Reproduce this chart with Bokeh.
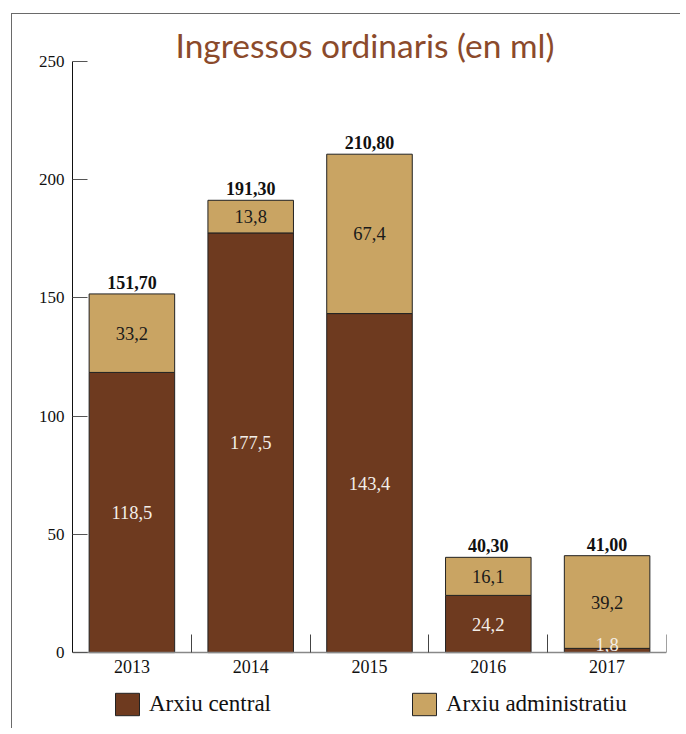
from bokeh.plotting import figure
from bokeh.models import (ColumnDataSource, FixedTicker, Legend, LegendItem,
                          InlineStyleSheet)
from bokeh.core.properties import value
from bokeh.embed import file_html
from bokeh.resources import INLINE

# ---- data ----
years = ["2013", "2014", "2015", "2016", "2017"]
arxiu_central = [118.5, 177.5, 143.4, 24.2, 1.8]
arxiu_administratiu = [33.2, 13.8, 67.4, 16.1, 39.2]
y_ticks = [0, 50, 100, 150, 200, 250]

title_text = "Ingressos ordinaris (en ml)"
series_names = ["Arxiu central", "Arxiu administratiu"]
c_central = "#6E3A1F"
c_admin = "#C9A463"

SERIF = "Liberation Serif"
MIN_LABEL_Y = 3.5  # keep very small segment labels readable above the axis

def fmt(v, d):
    return f"{v:.{d}f}".replace(".", ",")

xs = [i + 0.5 for i in range(len(years))]
totals = [a + b for a, b in zip(arxiu_central, arxiu_administratiu)]

src = ColumnDataSource(dict(
    x=xs,
    central=arxiu_central,
    admin=arxiu_administratiu,
    total=totals,
    central_mid=[max(c / 2, MIN_LABEL_Y) for c in arxiu_central],
    admin_mid=[c + a / 2 for c, a in zip(arxiu_central, arxiu_administratiu)],
    central_lbl=[fmt(v, 1) for v in arxiu_central],
    admin_lbl=[fmt(v, 1) for v in arxiu_administratiu],
    total_lbl=[fmt(v, 2) for v in totals],
))

# the frame extends below zero so that axis labels and legend sit inside it
p = figure(frame_width=594, frame_height=663,
           min_border_left=72, min_border_right=14,
           min_border_top=61, min_border_bottom=4,
           x_range=(0, len(years)), y_range=(-30.4, 250),
           output_backend="svg", toolbar_location=None)
p.outline_line_color = None
p.xgrid.grid_line_color = None
p.ygrid.grid_line_color = None
p.background_fill_color = "white"
p.border_fill_color = "white"

# title
p.title.text = title_text
p.title.align = "left"
p.title.offset = 103
p.title.text_font = "Lato"
p.title.text_font_size = "33.5px"
p.title.text_font_style = "normal"
p.title.text_color = "#8B4A2B"
p.title.standoff = -6

bars = p.vbar_stack(["central", "admin"], x="x", width=0.72, source=src,
                    color=[c_central, c_admin], line_color="#222222", line_width=1)

# segment labels
p.text(x="x", y="central_mid", text="central_lbl", source=src,
       text_align="center", text_baseline="middle", text_color="#F3EEE8",
       text_font=value(SERIF), text_font_size="18.5px")
p.text(x="x", y="admin_mid", text="admin_lbl", source=src,
       text_align="center", text_baseline="middle", text_color="#1a1a1a",
       text_font=value(SERIF), text_font_size="18.5px")
p.text(x="x", y="total", text="total_lbl", source=src,
       text_align="center", text_baseline="bottom", text_color="#111111",
       text_font=value(SERIF), text_font_size="18px", text_font_style="bold",
       y_offset=-5)

# x axis drawn at y = 0
xa = p.xaxis[0]
xa.fixed_location = 0
xa.ticker = FixedTicker(ticks=xs, minor_ticks=list(range(1, len(years) + 1)))
xa.major_label_overrides = {x: y for x, y in zip(xs, years)}
xa.major_tick_in = 0
xa.major_tick_out = 0
xa.minor_tick_in = 18
xa.minor_tick_out = 0
xa.minor_tick_line_color = "#444444"
xa.axis_line_color = "#888888"
xa.axis_line_width = 1.5
xa.major_label_text_font = SERIF
xa.major_label_text_font_size = "18px"
xa.major_label_text_color = "#111111"
xa.major_label_standoff = 7

# y axis, bounded to 0..250
ya = p.yaxis[0]
ya.bounds = (0, 250)
ya.ticker = FixedTicker(ticks=y_ticks)
ya.minor_tick_line_color = None
ya.major_tick_in = 15
ya.major_tick_out = 0
ya.major_tick_line_color = "#555555"
ya.axis_line_color = "#111111"
ya.major_label_text_font = SERIF
ya.major_label_text_font_size = "17px"
ya.major_label_text_color = "#111111"
ya.major_label_standoff = 8

# legend
legend = Legend(items=[LegendItem(label=n, renderers=[r]) for n, r in zip(series_names, bars)],
                location=(40, 6), orientation="horizontal",
                padding=0, margin=0, spacing=138,
                border_line_color=None, background_fill_alpha=0,
                glyph_width=30, glyph_height=28, label_standoff=7,
                label_text_font=SERIF, label_text_font_size="23px",
                label_text_color="#111111", label_text_baseline="middle")
p.add_layout(legend, "center")

# decorative frame: top and left rules
p.stylesheets = [InlineStyleSheet(css="""
:host::after {
  content: ""; position: absolute; left: 11px; top: 13px; right: 0; bottom: 0;
  border-top: 1.5px solid #6a6a6a; border-left: 1.5px solid #6a6a6a;
  pointer-events: none;
}
""")]

open("out.html", "w").write(file_html(p, INLINE))
